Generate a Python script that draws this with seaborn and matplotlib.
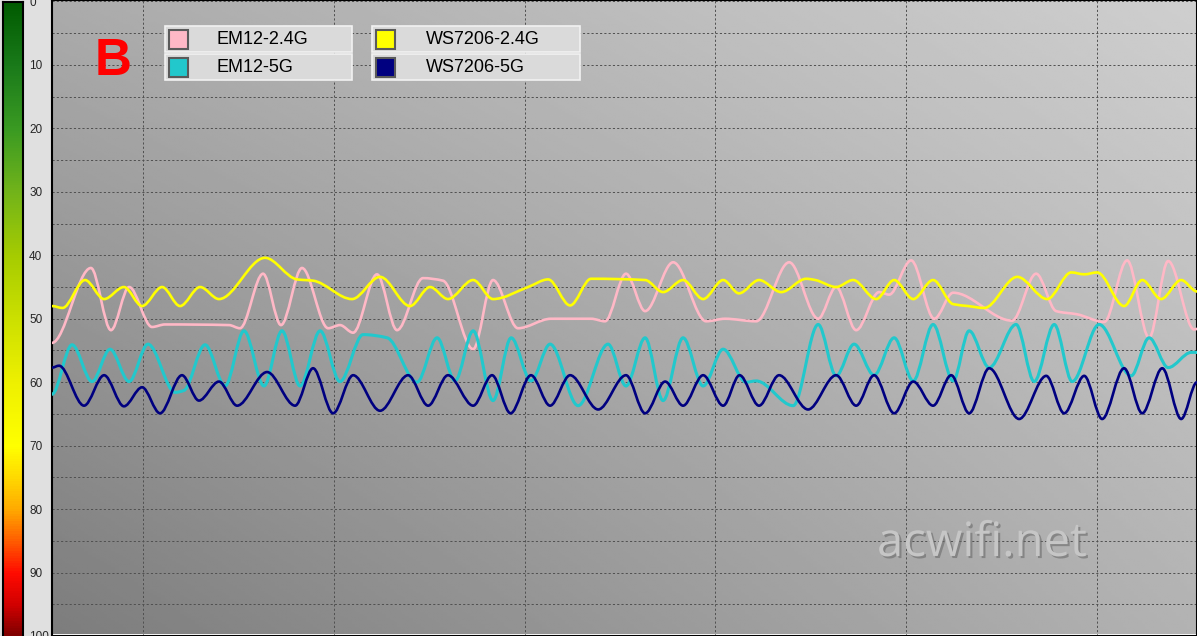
import numpy as np
import matplotlib
matplotlib.use('Agg')
import matplotlib.pyplot as plt
import seaborn as sns
from matplotlib.path import Path
from matplotlib.patches import PathPatch, Rectangle
from matplotlib.colors import LinearSegmentedColormap
import matplotlib.patheffects as pe

# signal samples (x: seconds, y: signal level)
em12_24_x = [0, 2.04, 3.09, 4.04, 5.24, 5.92, 9.28, 9.85, 11.06, 12.0, 13.10, 14.47, 15.09, 15.78,
             17.03, 18.08, 19.44, 20.49, 22.07, 23.11, 24.42, 26.15, 28.25, 28.98, 30.08, 31.08,
             32.55, 34.28, 35.27, 36.90, 38.63, 40.15, 41.09, 42.14, 43.34, 43.87, 45.02, 46.23,
             47.22, 50.31, 51.57, 52.62, 53.72, 55.14, 56.34, 57.49, 58.49, 59.85, 60.0]
em12_24_y = [53.8, 42.0, 51.8, 45.0, 51.3, 50.9, 51.0, 51.5, 42.9, 51.0, 42.0, 51.5, 51.0, 52.2,
             43.0, 51.8, 43.6, 44.0, 54.8, 43.9, 51.5, 50.0, 50.0, 50.4, 42.9, 48.8,
             41.1, 50.4, 50.0, 50.4, 41.1, 50.0, 45.0, 51.8, 45.8, 46.2, 40.8, 50.0,
             45.9, 50.3, 42.9, 48.8, 49.3, 50.5, 40.8, 53.0, 40.9, 51.7, 51.6]

em12_5_x = [0, 1.05, 2.10, 3.04, 4.04, 5.03, 6.45, 6.92, 8.02, 9.07, 10.06, 11.11, 12.05, 13.0,
            14.05, 15.09, 16.30, 17.56, 19.13, 20.18, 21.12, 22.07, 23.11, 24.06, 25.10, 26.10,
            27.57, 29.14, 30.08, 31.08, 32.02, 33.07, 34.12, 35.17, 36.37, 36.90, 38.84, 40.15,
            41.09, 42.03, 43.08, 44.13, 45.13, 46.17, 47.22, 48.06, 49.11, 50.52, 51.47, 52.52,
            53.46, 54.87, 56.55, 57.49, 58.49, 59.70, 60.0]
em12_5_y = [61.9, 54.1, 59.9, 54.8, 59.9, 54.0, 61.6, 61.3, 54.1, 60.6, 51.9, 60.6, 51.9, 60.6,
            51.9, 59.9, 52.5, 53.0, 60.0, 53.0, 59.8, 51.9, 62.9, 53.0, 59.8, 54.0,
            63.7, 54.0, 60.6, 53.0, 62.9, 53.0, 60.6, 54.8, 60.0, 59.8, 63.7, 50.9,
            59.0, 54.0, 58.9, 53.0, 59.8, 50.9, 59.8, 51.9, 57.7, 50.9, 59.9, 50.9,
            59.9, 50.9, 59.0, 53.0, 57.7, 55.3, 55.3]

ws_24_x = [0, 0.55, 1.73, 2.73, 3.77, 4.72, 5.77, 6.71, 7.76, 8.75, 11.16, 12.84, 13.68, 15.72,
           17.19, 18.76, 19.81, 20.75, 22.07, 23.11, 24.95, 26.0, 27.15, 28.25, 31.08, 32.02,
           33.07, 34.12, 35.17, 36.0, 37.05, 38.21, 39.52, 40.0, 41.09, 41.98, 43.19, 44.13,
           45.13, 46.17, 47.22, 48.01, 48.85, 50.58, 52.15, 53.41, 54.09, 54.77, 56.18, 57.13,
           58.12, 59.17, 60.0]
ws_24_y = [48.0, 48.3, 43.9, 46.9, 45.0, 48.0, 45.0, 48.0, 45.0, 46.9, 40.4, 43.8, 44.0, 46.9,
           43.4, 48.0, 45.0, 46.9, 43.9, 46.9, 45.0, 43.8, 47.9, 43.7, 43.9, 45.8,
           43.9, 46.9, 43.9, 46.0, 43.9, 45.8, 43.7, 43.9, 45.0, 43.9, 46.9, 43.9,
           46.9, 43.9, 47.7, 48.0, 48.3, 43.4, 46.9, 42.7, 43.0, 42.7, 48.0, 43.9,
           46.9, 43.9, 45.7]

ws_5_x = [0, 0.37, 1.68, 2.73, 3.77, 4.72, 5.66, 6.81, 7.70, 8.75, 9.70, 11.27, 12.74, 13.68,
          14.73, 15.78, 17.19, 18.66, 19.71, 20.75, 22.07, 23.06, 24.03, 25.10, 26.10, 27.15,
          28.62, 30.08, 31.08, 32.13, 33.07, 34.12, 35.17, 36.03, 37.05, 38.10, 39.62, 41.09,
          42.14, 43.08, 44.13, 45.13, 46.17, 47.12, 48.06, 49.11, 50.68, 52.10, 53.04, 54.09,
          55.03, 56.18, 57.13, 58.18, 59.17, 60.0]
ws_5_y = [57.7, 57.4, 63.7, 58.9, 63.8, 60.8, 64.9, 58.9, 62.9, 59.9, 63.7, 58.4, 63.7, 57.8,
          64.9, 58.9, 64.5, 58.9, 63.7, 58.9, 63.7, 58.9, 64.9, 58.9, 63.7, 58.9,
          64.3, 58.9, 64.9, 59.9, 63.7, 58.9, 63.7, 58.9, 63.7, 58.9, 64.3, 58.9,
          63.7, 58.9, 64.9, 59.9, 63.7, 58.9, 64.9, 57.8, 65.8, 59.0, 64.9, 59.0,
          65.8, 57.8, 64.9, 57.8, 65.8, 60.0]

series_names = ['EM12-2.4G', 'EM12-5G', 'WS7206-2.4G', 'WS7206-5G']
series_colors = ['#ffb8c6', '#22c8cc', '#ffff00', '#000080']
level_ticks = list(range(0, 101, 10))


def smooth_path(xs, ys):
    # monotone cubic (Fritsch-Carlson) drawn as bezier segments
    x = np.asarray(xs, float)
    y = np.asarray(ys, float)
    h = np.diff(x)
    d = np.diff(y) / h
    m = np.zeros(len(x))
    for k in range(1, len(x) - 1):
        if d[k - 1] * d[k] > 0:
            w1 = 2 * h[k] + h[k - 1]
            w2 = h[k] + 2 * h[k - 1]
            m[k] = (w1 + w2) / (w1 / d[k - 1] + w2 / d[k])
    verts = [(x[0], y[0])]
    codes = [Path.MOVETO]
    for k in range(len(x) - 1):
        verts += [(x[k] + h[k] / 3, y[k] + m[k] * h[k] / 3),
                  (x[k + 1] - h[k] / 3, y[k + 1] - m[k + 1] * h[k] / 3),
                  (x[k + 1], y[k + 1])]
        codes += [Path.CURVE4] * 3
    return Path(verts, codes)


sns.set_style('white')
plt.rcParams['font.family'] = ['Liberation Sans', 'DejaVu Sans']

W, H = 1197, 636
fig = plt.figure(figsize=(W / 100, H / 100), dpi=100, facecolor='#e0e0e0')

# main plot area
ax = fig.add_axes([52 / W, 0, 1145 / W, 1])
y_top, y_bot = -0.235, 99.61

u, v = np.meshgrid(np.linspace(0, 1, 300), np.linspace(0, 1, 300))
bg = 0.67 * (1 - u) * (1 - v) + 0.81 * u * (1 - v) + 0.49 * (1 - u) * v + 0.70 * u * v
ax.imshow(bg, cmap='gray', vmin=0, vmax=1, extent=(0, 60, y_bot, y_top),
          aspect='auto', zorder=0, interpolation='bilinear')

ax.set_xlim(0, 60)
ax.set_ylim(y_bot, y_top)
ax.set_xticks([4.76 + 10 * k for k in range(6)])
ax.set_xticklabels([])
ax.set_yticks(level_ticks)
ax.set_yticks(np.arange(5, 100, 10), minor=True)
ax.set_yticklabels([str(t) for t in level_ticks], ha='left', fontsize=8.5)
ax.tick_params(which='both', length=0)
ax.tick_params(axis='y', pad=16.5)
ax.set_axisbelow(True)
ax.grid(True, which='both', color='#505050', linestyle=(0, (2.2, 2.2)), linewidth=0.7)
for s in ax.spines.values():
    s.set_visible(True)
    s.set_color('black')
    s.set_linewidth(1.5)

all_x = [em12_24_x, em12_5_x, ws_24_x, ws_5_x]
all_y = [em12_24_y, em12_5_y, ws_24_y, ws_5_y]
widths = [1.9, 2.2, 1.9, 1.9]
for xs, ys, c, lw in zip(all_x, all_y, series_colors, widths):
    ax.add_patch(PathPatch(smooth_path(xs, ys), facecolor='none', edgecolor=c,
                           lw=lw, zorder=3, capstyle='round', joinstyle='round'))

# colour scale bar on the left
bar_cmap = LinearSegmentedColormap.from_list('level', [
    (0.0, '#005a00'), (0.10, '#1a7a1a'), (0.20, '#3a9a22'), (0.30, '#72b41a'),
    (0.40, '#a6cc00'), (0.50, '#cce000'), (0.60, '#eef000'), (0.70, '#ffff00'),
    (0.75, '#ffd800'), (0.80, '#ffa800'), (0.85, '#ff5a00'), (0.90, '#ff0a00'),
    (0.95, '#d00000'), (1.0, '#7a0000')])
cax = fig.add_axes([3 / W, 1 - 638 / H, 20 / W, 636.5 / H])
grad = np.linspace(0, 100, 256).reshape(-1, 1)
sns.heatmap(grad, ax=cax, cmap=bar_cmap, cbar=False, xticklabels=False, yticklabels=False)
for s in cax.spines.values():
    s.set_visible(True)
    s.set_color('black')
    s.set_linewidth(1.5)


# legend panels
def fx(x):
    return x / W


def fy(y):
    return 1 - y / H


panels = [(165, 352, 169, 217, series_names[:2], series_colors[:2]),
          (372, 580, 376, 426, series_names[2:], series_colors[2:])]
for x0, x1, sw_x, tx, names, cols in panels:
    for i, (name, col) in enumerate(zip(names, cols)):
        r0 = 26 + i * 28
        fig.add_artist(Rectangle((fx(x0), fy(r0 + 26)), (x1 - x0) / W, 26 / H,
                                 transform=fig.transFigure, facecolor='#dadada',
                                 edgecolor='#f2f2f2', lw=1.2))
        fig.add_artist(Rectangle((fx(sw_x), fy(r0 + 23)), 19 / W, 19 / H,
                                 transform=fig.transFigure, facecolor=col,
                                 edgecolor='#5a5a5a', lw=1.5))
        fig.text(fx(tx), fy(r0 + 13), name, fontsize=13, color='black',
                 ha='left', va='center')

fig.text(fx(113), fy(75), 'B', fontsize=37, fontweight='bold', color='#ff0000',
         ha='center', va='baseline')

fig.text(fx(877), fy(556), 'acwifi.net', fontsize=34, family=['Open Sans', 'DejaVu Sans'],
         color='#c6c6c6', ha='left', va='baseline',
         path_effects=[pe.withSimplePatchShadow(offset=(1.5, -1.5),
                                                shadow_rgbFace='#6a6a6a', alpha=0.6)])

fig.savefig('out.png', dpi=100, facecolor=fig.get_facecolor())
